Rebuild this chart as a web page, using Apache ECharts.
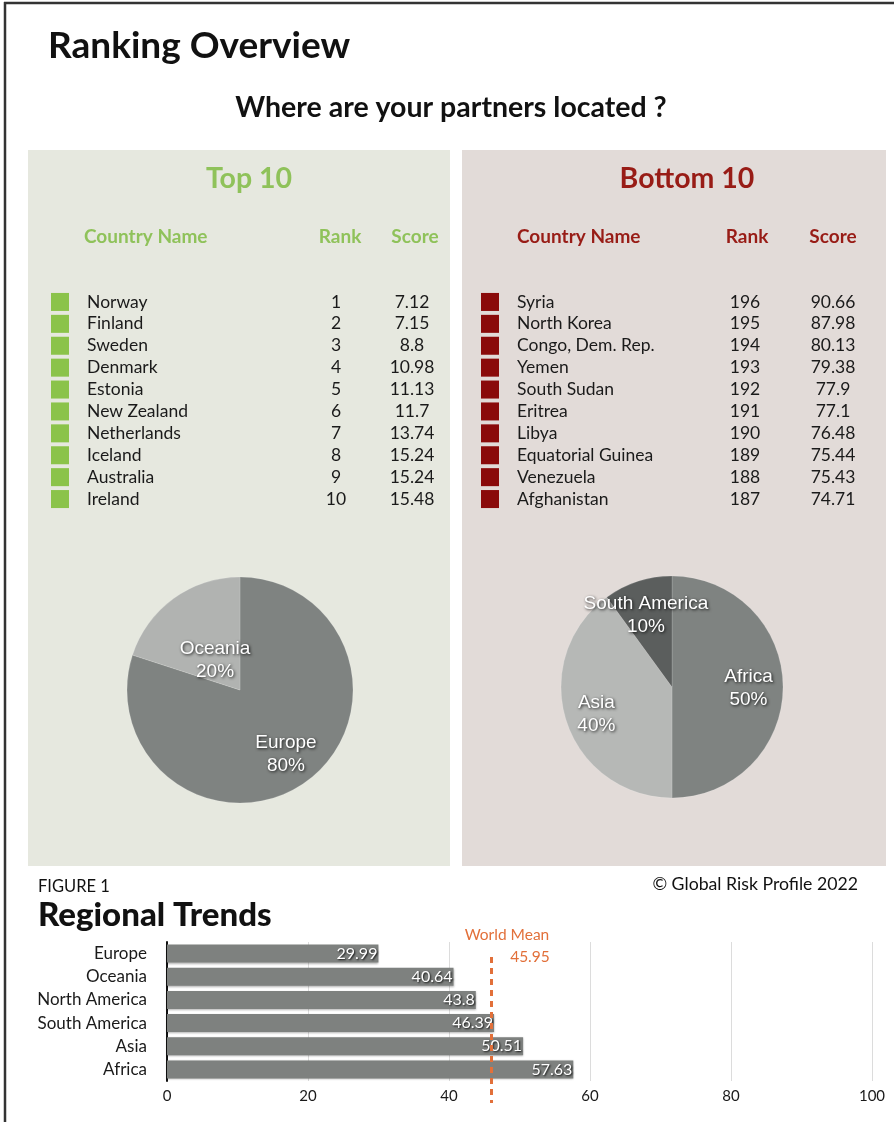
<!DOCTYPE html>
<html>
<head>
<meta charset="utf-8">
<script src="https://cdn.jsdelivr.net/npm/echarts@6/dist/echarts.min.js"></script>
<style>
html,body{margin:0;padding:0;background:#fff;}
#c{width:894px;height:1122px;}
</style>
</head>
<body>
<div id="c"></div>
<script>
// ---- data ----
const topCountries = ['Norway','Finland','Sweden','Denmark','Estonia','New Zealand','Netherlands','Iceland','Australia','Ireland'];
const topRanks = [1,2,3,4,5,6,7,8,9,10];
const topScores = [7.12,7.15,8.8,10.98,11.13,11.7,13.74,15.24,15.24,15.48];
const bottomCountries = ['Syria','North Korea','Congo, Dem. Rep.','Yemen','South Sudan','Eritrea','Libya','Equatorial Guinea','Venezuela','Afghanistan'];
const bottomRanks = [196,195,194,193,192,191,190,189,188,187];
const bottomScores = [90.66,87.98,80.13,79.38,77.9,77.1,76.48,75.44,75.43,74.71];
const topRegions = ['Europe','Oceania'];
const topRegionCounts = [8,2];
const bottomRegions = ['Africa','Asia','South America'];
const bottomRegionCounts = [5,4,1];
const trendRegions = ['Europe','Oceania','North America','South America','Asia','Africa'];
const trendValues = [29.99,40.64,43.8,46.39,50.51,57.63];
const worldMean = 45.95;
const trendTicks = [0,20,40,60,80,100];

// ---- styles ----
const FONT = 'Lato, "Open Sans", sans-serif';
const GREEN = '#8fc25a';
const GREEN_SQ = '#8bc34a';
const RED = '#981c16';
const RED_SQ = '#8a0a0a';
const TXT = '#1a1a1a';
const ORANGE = '#e2703a';

const chart = echarts.init(document.getElementById('c'));

function tableSeries(gridIdx, countries, ranks, scores, cols, sqColor){
  const base = {type:'scatter', xAxisIndex:gridIdx, yAxisIndex:gridIdx, silent:true, z:5};
  const txt = {color:TXT, fontSize:17.5, fontFamily:FONT};
  const hidden = {color:'rgba(0,0,0,0)', opacity:1};
  return [
    Object.assign({}, base, {
      symbol:'rect', symbolSize:[18,18], itemStyle:{color:sqColor, opacity:1},
      data: countries.map(c=>[cols.sq, c])
    }),
    Object.assign({}, base, {
      symbolSize:0.1, itemStyle:hidden,
      label:Object.assign({show:true, position:'right', distance:0, formatter:p=>p.value[1]}, txt),
      data: countries.map(c=>[cols.name, c])
    }),
    Object.assign({}, base, {
      symbolSize:0.1, itemStyle:hidden,
      label:Object.assign({show:true, position:'inside', formatter:p=>String(p.value[2])}, txt),
      data: countries.map((c,i)=>[cols.rank, c, ranks[i]])
    }),
    Object.assign({}, base, {
      symbolSize:0.1, itemStyle:hidden,
      label:Object.assign({show:true, position:'inside', formatter:p=>String(p.value[2])}, txt),
      data: countries.map((c,i)=>[cols.score, c, scores[i]])
    })
  ];
}

const pieLabel = {
  show:true, position:'inside', formatter:'{b}\n{d}%',
  color:'#fff', fontSize:19, lineHeight:23, fontFamily:'"Liberation Sans", Arial, sans-serif',
  textShadowColor:'rgba(0,0,0,0.85)', textShadowBlur:3, textShadowOffsetX:1, textShadowOffsetY:1
};

const topPieOffsets = [[11,16],[10,18]];
const bottomPieOffsets = [[18,1],[-20,9],[-8,-16]];

const option = {
  animation:false,
  backgroundColor:'#fff',
  textStyle:{fontFamily:FONT},
  graphic:[
    {type:'line', z:-5, shape:{x1:4,y1:3,x2:894,y2:3}, style:{stroke:'#333', lineWidth:2.5}},
    {type:'line', z:-5, shape:{x1:5,y1:2,x2:5,y2:1122}, style:{stroke:'#333', lineWidth:2.5}},
    {type:'rect', z:-10, shape:{x:28,y:150,width:422,height:716}, style:{fill:'#e6e8df'}},
    {type:'rect', z:-10, shape:{x:462,y:150,width:424,height:716}, style:{fill:'#e2dbd8'}},
    {type:'text', x:48, y:46, style:{text:'Ranking Overview', font:'bold 37px '+FONT, fill:'#111', textVerticalAlign:'middle'}},
    {type:'text', x:451, y:108, style:{text:'Where are your partners located ?', font:'bold 28.5px '+FONT, fill:'#111', textAlign:'center', textVerticalAlign:'middle'}},
    {type:'text', x:249, y:179, style:{text:'Top 10', font:'bold 28.5px '+FONT, fill:GREEN, textAlign:'center', textVerticalAlign:'middle'}},
    {type:'text', x:687, y:179, style:{text:'Bottom 10', font:'bold 28.5px '+FONT, fill:RED, textAlign:'center', textVerticalAlign:'middle'}},
    {type:'text', x:84, y:237, style:{text:'Country Name', font:'bold 19px '+FONT, fill:GREEN, textVerticalAlign:'middle'}},
    {type:'text', x:340, y:237, style:{text:'Rank', font:'bold 19px '+FONT, fill:GREEN, textAlign:'center', textVerticalAlign:'middle'}},
    {type:'text', x:415, y:237, style:{text:'Score', font:'bold 19px '+FONT, fill:GREEN, textAlign:'center', textVerticalAlign:'middle'}},
    {type:'text', x:517, y:237, style:{text:'Country Name', font:'bold 19px '+FONT, fill:RED, textVerticalAlign:'middle'}},
    {type:'text', x:747, y:237, style:{text:'Rank', font:'bold 19px '+FONT, fill:RED, textAlign:'center', textVerticalAlign:'middle'}},
    {type:'text', x:833, y:237, style:{text:'Score', font:'bold 19px '+FONT, fill:RED, textAlign:'center', textVerticalAlign:'middle'}},
    {type:'text', x:38, y:887, style:{text:'FIGURE 1', font:'16.5px '+FONT, fill:'#111', textVerticalAlign:'middle'}},
    {type:'text', x:38, y:915, style:{text:'Regional Trends', font:'900 33px '+FONT, fill:'#111', textVerticalAlign:'middle'}},
    {type:'text', x:858, y:884, style:{text:'\u00A9 Global Risk Profile 2022', font:'17.7px '+FONT, fill:'#111', textAlign:'right', textVerticalAlign:'middle'}}
  ],
  grid:[
    {left:28, width:422, top:291, height:219},
    {left:462, width:424, top:291, height:219},
    {left:167, right:22, top:942, height:139}
  ],
  xAxis:[
    {gridIndex:0, type:'value', min:28, max:450, show:false},
    {gridIndex:1, type:'value', min:462, max:886, show:false},
    {gridIndex:2, type:'value', min:trendTicks[0], max:trendTicks[trendTicks.length-1], interval:20,
     axisLine:{show:false}, axisTick:{show:false},
     splitLine:{show:true, lineStyle:{color:'#dcdcdc', width:1}},
     axisLabel:{color:TXT, fontSize:15, fontFamily:FONT, margin:8}}
  ],
  yAxis:[
    {gridIndex:0, type:'category', data:topCountries, inverse:true, show:false},
    {gridIndex:1, type:'category', data:bottomCountries, inverse:true, show:false},
    {gridIndex:2, type:'category', data:trendRegions, inverse:true,
     axisLine:{show:true, lineStyle:{color:'#111', width:2}}, axisTick:{show:false},
     axisLabel:{color:TXT, fontSize:17, fontFamily:FONT, margin:20, interval:0}}
  ],
  series:[
    ...tableSeries(0, topCountries, topRanks, topScores, {sq:60, name:87, rank:336, score:412}, GREEN_SQ),
    ...tableSeries(1, bottomCountries, bottomRanks, bottomScores, {sq:490, name:517, rank:745, score:833}, RED_SQ),
    {
      type:'pie', center:[240,690], radius:113, startAngle:90, clockwise:true, silent:true,
      data: topRegions.map((r,i)=>({name:r, value:topRegionCounts[i]})),
      color:['#7f8381','#b1b3b1'],
      itemStyle:{borderColor:'rgba(255,255,255,0.15)', borderWidth:1},
      label:pieLabel, labelLine:{show:false},
      labelLayout:p=>({dx:topPieOffsets[p.dataIndex][0], dy:topPieOffsets[p.dataIndex][1]})
    },
    {
      type:'pie', center:[672,687], radius:111, startAngle:90, clockwise:true, silent:true,
      data: bottomRegions.map((r,i)=>({name:r, value:bottomRegionCounts[i]})),
      color:['#7f8381','#b6b8b6','#5b5e5d'],
      itemStyle:{borderColor:'rgba(255,255,255,0.15)', borderWidth:1},
      label:pieLabel, labelLine:{show:false},
      labelLayout:p=>({dx:bottomPieOffsets[p.dataIndex][0], dy:bottomPieOffsets[p.dataIndex][1]})
    },
    {
      type:'bar', xAxisIndex:2, yAxisIndex:2, silent:true, barWidth:18,
      data:trendValues,
      itemStyle:{color:'#7e817f', shadowColor:'rgba(0,0,0,0.3)', shadowBlur:2, shadowOffsetY:1},
      label:{show:true, position:'insideRight', distance:1, color:'#fff', fontSize:16, fontFamily:FONT,
             textShadowColor:'rgba(0,0,0,0.9)', textShadowBlur:2, textShadowOffsetX:1, textShadowOffsetY:1},
      markLine:{
        silent:true, symbol:'none', z:10,
        lineStyle:{color:ORANGE, type:[6,5], width:3},
        label:{show:true, position:'start', distance:[0,-11], formatter:'{a|World Mean}\n{b|'+worldMean+'}',
          rich:{a:{color:ORANGE, fontSize:15.5, lineHeight:22, fontFamily:FONT, padding:[0,0,0,32]},
                b:{color:ORANGE, fontSize:15.5, lineHeight:22, fontFamily:FONT, padding:[0,0,0,78]}}},
        data:[[{coord:[worldMean, trendRegions[0]], y:957}, {coord:[worldMean, trendRegions[trendRegions.length-1]], y:1103}]]
      }
    }
  ]
};
chart.setOption(option);
</script>
</body>
</html>
